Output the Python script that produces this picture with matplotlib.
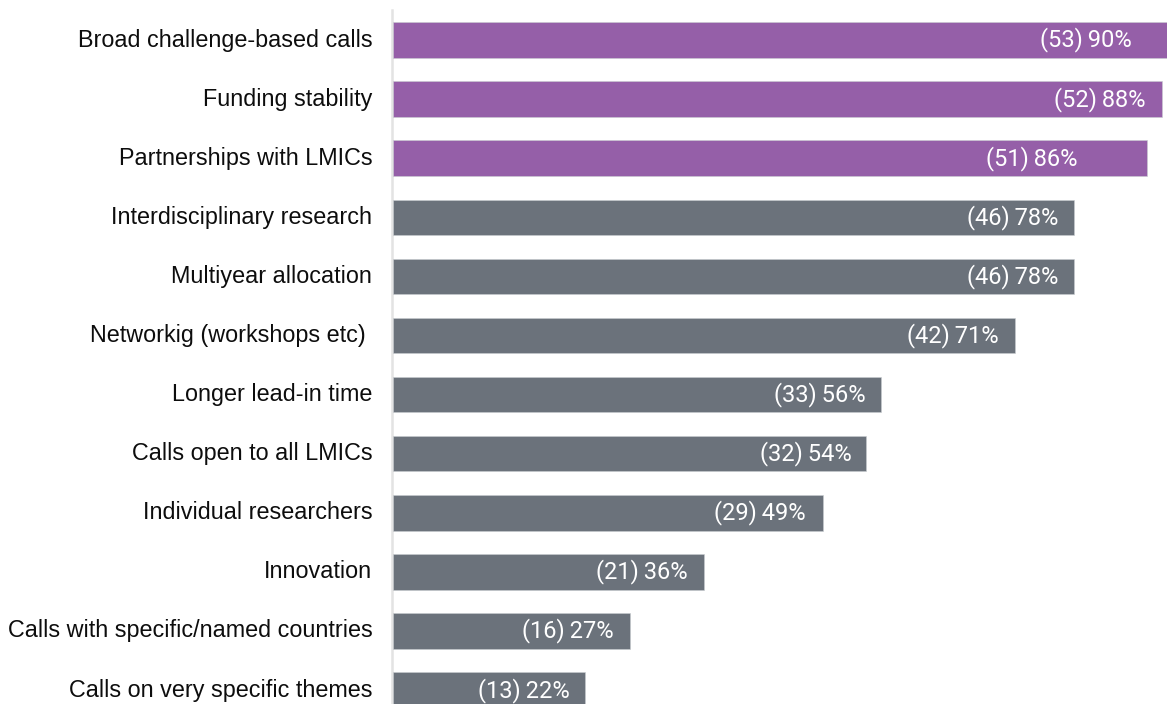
import matplotlib
matplotlib.use("Agg")
import matplotlib.pyplot as plt

categories = [
    "Broad challenge-based calls",
    "Funding stability",
    "Partnerships with LMICs",
    "Interdisciplinary research",
    "Multiyear allocation",
    "Networkig (workshops etc) ",
    "Longer lead-in time",
    "Calls open to all LMICs",
    "Individual researchers",
    "Innovation",
    "Calls with specific/named countries",
    "Calls on very specific themes",
]
counts = [53, 52, 51, 46, 46, 42, 33, 32, 29, 21, 16, 13]
# bar lengths (%), and the rounded labels shown
bar_values = [89.8, 88.1, 86.4, 78.0, 78.0, 71.2, 55.9, 54.2, 49.2, 35.6, 27.1, 22.0]
percent_labels = [90, 88, 86, 78, 78, 71, 56, 54, 49, 36, 27, 22]
highlighted = [True, True, True, False, False, False, False, False, False, False, False, False]

PURPLE = "#955FA8"
GREY = "#6B727B"

W, H = 1167, 704
fig = plt.figure(figsize=(W / 100, H / 100), dpi=100)
ax_left = 393.3 / W
ax = fig.add_axes([ax_left, 0, 1 - ax_left, 1])

px_per_pct = 8.727
xmax = (W - 393.3) / px_per_pct
row_px = 59.1
top_center = 40.0
ax.set_xlim(0, xmax)
ax.set_ylim((H - top_center) / row_px, -top_center / row_px)

ypos = list(range(len(categories)))
colors = [PURPLE if h else GREY for h in highlighted]
ax.barh(ypos, bar_values, height=0.6, color=colors, edgecolor="#C9CDD1",
        linewidth=0.4, clip_on=True, zorder=2)

# label offset from bar end (px)
offsets_px = [45, 17, 70, 16, 16, 16, 16, 15, 17, 16, 16, 16]
for y, c, v, p, off in zip(ypos, counts, bar_values, percent_labels, offsets_px):
    ax.text(v - off / px_per_pct, y, f"({c})\u2009{p}%", ha="right", va="center",
            color="white", fontsize=17, family=["Roboto", "DejaVu Sans"],
            zorder=3)

for y, cat in zip(ypos, categories):
    ax.text(-21 / px_per_pct, y, cat, ha="right", va="center", color="#0d0d0d",
            fontsize=16.8, family=["Liberation Sans", "DejaVu Sans"], clip_on=False)

# vertical baseline
ax.plot([-1 / px_per_pct, -1 / px_per_pct], [(10 - top_center) / row_px, (H - top_center) / row_px],
        color="#E3E3E3", linewidth=1.8, clip_on=False, zorder=1)

ax.axis("off")
fig.savefig("out.png", dpi=100)
